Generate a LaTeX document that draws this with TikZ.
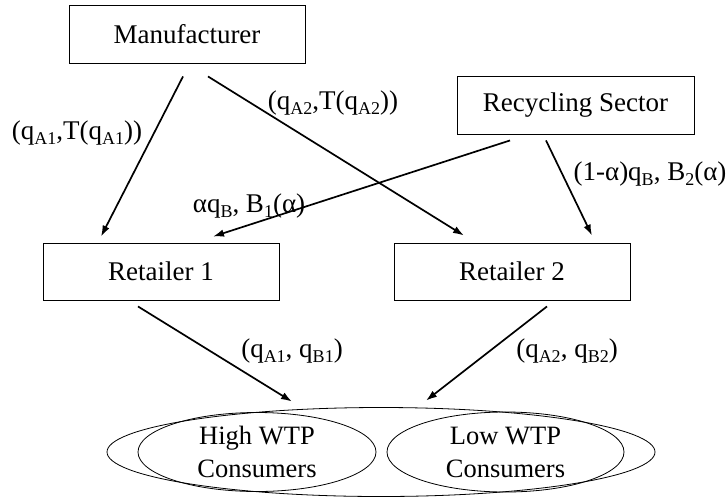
\documentclass[tikz,border=0pt]{standalone}
\usepackage{fontspec}
\setmainfont{Liberation Serif}
\usetikzlibrary{arrows.meta,shapes.geometric}
\newcommand\sbx[1]{\raisebox{-0.2em}{\fontsize{18}{18}\selectfont #1}}
\begin{document}
\begin{tikzpicture}[x=1pt,y=-1pt,
  box/.style={draw, line width=0.9pt, minimum width=236pt, minimum height=58pt, inner sep=0pt,
    font=\fontsize{27}{32}\selectfont},
  arr/.style={line width=1.7pt, -{Latex[length=11pt,width=7.5pt]}},
  lbl/.style={inner sep=0pt, font=\fontsize{27}{32}\selectfont},
  ell/.style={draw, ellipse, line width=0.8pt, inner sep=0pt},
  etext/.style={font=\fontsize{26.5}{33}\selectfont, align=center}]
\useasboundingbox (0,0) rectangle (728,499);
% boxes
\node[box] (man) at (187,34) {Manufacturer};
\node[box, minimum width=237pt] (rec) at (575.5,105) {Recycling Sector};
\node[box, minimum height=57pt] (r1) at (161,271.5) {Retailer 1};
\node[box, minimum height=57pt] (r2) at (512,271.5) {Retailer 2};
% consumers
\node[ell, minimum width=548pt, minimum height=89pt] (cons) at (381,452) {};
\node[ell, etext, minimum width=238pt, minimum height=79pt] (high) at (257,452) {High WTP\\Consumers};
\node[ell, etext, minimum width=237pt, minimum height=80pt] (low) at (505.5,452) {Low WTP\\Consumers};
% arrow end points tied to nodes
\coordinate (m1) at ([shift={(-4,13)}]man.south);
\coordinate (m2) at ([shift={(21,13)}]man.south);
\coordinate (s1) at ([shift={(-65.5,6)}]rec.south);
\coordinate (s2) at ([shift={(-29.5,6)}]rec.south);
\coordinate (t1) at ([shift={(-60,-6)}]r1.north);
\coordinate (t2) at ([shift={(52,-6)}]r1.north);
\coordinate (u1) at ([shift={(-48,-7)}]r2.north);
\coordinate (u2) at ([shift={(80,-7)}]r2.north);
\coordinate (d1) at ([shift={(-23,6)}]r1.south);
\coordinate (d2) at ([shift={(35,6)}]r2.south);
\coordinate (c1) at ([shift={(-89,-5.5)}]cons.north);
\coordinate (c2) at ([shift={(45,-6.5)}]cons.north);
% arrows
\draw[arr] (m1) -- (t1);
\draw[arr] (m2) -- (u1);
\draw[arr] (s1) -- (t2);
\draw[arr] (s2) -- (u2);
\draw[arr] (d1) -- (c1);
\draw[arr] (d2) -- (c2);
% labels
\node[lbl] (l1) at (77,133) {(q\sbx{A1},T(q\sbx{A1}))};
\node[lbl] (l2) at (333,103) {(q\sbx{A2},T(q\sbx{A2}))};
\node[lbl] (l3) at (249,206) {αq\sbx{B}, B\sbx{1}(α)};
\node[lbl] (l4) at (650,174) {(1-α)q\sbx{B}, B\sbx{2}(α)};
\node[lbl] (l5) at (292,351) {(q\sbx{A1}, q\sbx{B1})};
\node[lbl] (l6) at (567,351) {(q\sbx{A2}, q\sbx{B2})};
\end{tikzpicture}
\end{document}
